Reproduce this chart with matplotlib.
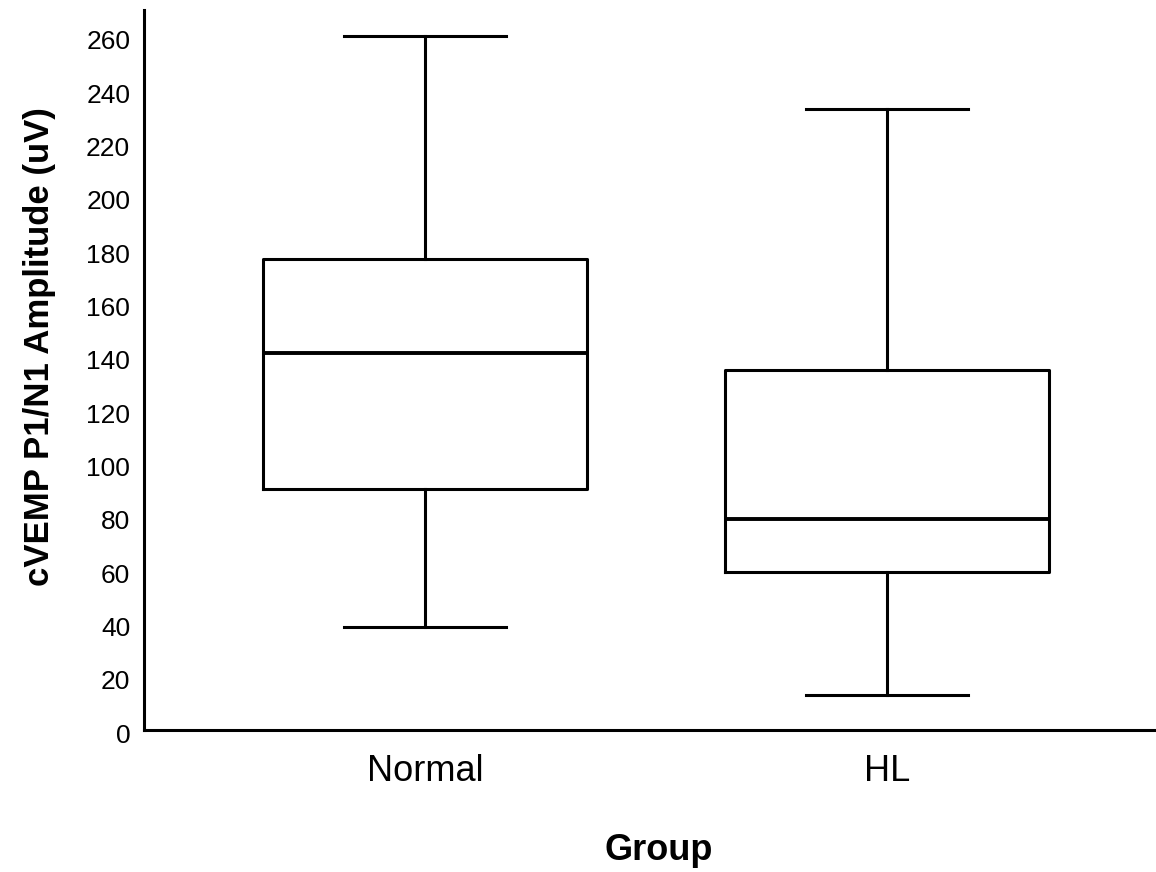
import matplotlib
matplotlib.use("Agg")
import matplotlib.pyplot as plt
from matplotlib.transforms import ScaledTranslation

plt.rcParams['font.family'] = ['Liberation Sans', 'DejaVu Sans']

# values (uV)
groups = ["Normal", "HL"]
whisker_low = [38.5, 13.2]
q1 = [90.4, 59.3]
median = [141.2, 79.2]
q3 = [176.7, 134.9]
whisker_high = [260.4, 233.0]

stats = []
for i, g in enumerate(groups):
    stats.append({"label": g, "whislo": whisker_low[i], "q1": q1[i], "med": median[i],
                  "q3": q3[i], "whishi": whisker_high[i], "fliers": []})

fig = plt.figure(figsize=(11.56, 8.72), dpi=100)
ax = fig.add_axes([0.1246, 0.1628, 0.8754, 0.8257])

lw = 2.2
ax.bxp(stats, positions=[1, 2], widths=0.70, showfliers=False,
       boxprops=dict(color="black", linewidth=lw),
       whiskerprops=dict(color="black", linewidth=lw),
       capprops=dict(color="black", linewidth=lw),
       medianprops=dict(color="black", linewidth=2.8))

ax.set_xlim(0.392, 2.582)
ax.set_ylim(0, 270)
ax.set_yticks(range(0, 261, 20))
ax.tick_params(axis="y", length=0, labelsize=19, pad=10)
ax.tick_params(axis="x", length=0, labelsize=26, pad=17)

# the reference's y tick labels sit a few pixels below their values
shift = ScaledTranslation(0, -3 / 100, fig.dpi_scale_trans)
for lab in ax.get_yticklabels():
    lab.set_transform(lab.get_transform() + shift)

for s in ["top", "right"]:
    ax.spines[s].set_visible(False)
for s in ["left", "bottom"]:
    ax.spines[s].set_linewidth(2.2)

ax.set_ylabel("cVEMP P1/N1 Amplitude (uV)", fontsize=25, fontweight="bold")
ax.yaxis.set_label_coords(-0.087, 0.532)
ax.set_xlabel("Group", fontsize=26, fontweight="bold")
ax.xaxis.set_label_coords(0.509, -0.143)

fig.savefig("out.png", dpi=100)
